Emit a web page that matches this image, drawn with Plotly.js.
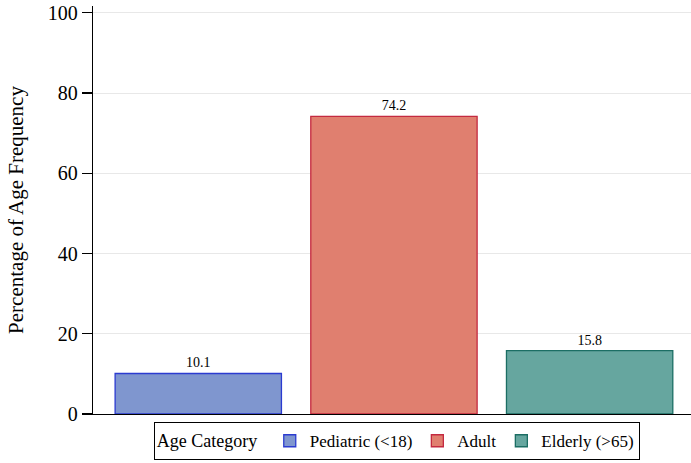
<!DOCTYPE html>
<html>
<head>
<meta charset="utf-8">
<script src="https://cdn.plot.ly/plotly-3.0.1.min.js"></script>
<style>html,body{margin:0;padding:0;background:#fff;}#chart{width:691px;height:463px;}</style>
</head>
<body>
<div id="chart"></div>
<script>
const categories = ["Pediatric (<18)", "Adult", "Elderly (>65)"];
const percentages = [10.1, 74.2, 15.8];
const fillColors = ["#7f96cf", "#e07f6f", "#66a69f"];
const lineColors = ["#2b3bd0", "#c42a40", "#1c6e64"];
const yTicks = [0, 20, 40, 60, 80, 100];
const SERIF = "Liberation Serif";

const traces = categories.map((c, i) => ({
  type: "bar",
  name: c,
  x: [i],
  y: [percentages[i]],
  width: 0.85,
  marker: { color: fillColors[i], line: { color: lineColors[i], width: 1.3 } },
  text: [percentages[i].toFixed(1)],
  textposition: "outside",
  cliponaxis: false,
  textfont: { family: SERIF, size: 14, color: "#000" },
  hoverinfo: "none"
}));

const layout = {
  width: 691, height: 463,
  margin: { l: 93, r: 0, t: 6, b: 49, autoexpand: false },
  paper_bgcolor: "#fff", plot_bgcolor: "#fff",
  font: { family: SERIF, color: "#000" },
  barmode: "overlay",
  showlegend: true,
  xaxis: {
    range: [-0.538, 2.518],
    showticklabels: false, ticks: "", showgrid: false, zeroline: false,
    showline: true, linecolor: "#000", linewidth: 1.3
  },
  yaxis: {
    range: [0, 101.7],
    tickvals: yTicks, ticktext: yTicks.map(String),
    ticks: "outside", ticklen: 10, tickwidth: 1.3, tickcolor: "#000",
    tickfont: { family: SERIF, size: 20 },
    showline: true, linecolor: "#000", linewidth: 1.3,
    showgrid: true, gridcolor: "#e8e8e8", gridwidth: 1,
    zeroline: false,
    title: { text: "Percentage of Age Frequency", font: { family: SERIF, size: 21 }, standoff: 18 }
  },
  legend: {
    orientation: "h",
    x: 0.508, xanchor: "center",
    yref: "container",
    y: 0.006, yanchor: "bottom",
    bordercolor: "#000", borderwidth: 1,
    font: { family: SERIF, size: 17 },
    title: { text: "Age Category ", font: { family: SERIF, size: 18 }, side: "left" },
    itemclick: false
  }
};

Plotly.newPlot("chart", traces, layout, { staticPlot: true });
</script>
</body>
</html>
